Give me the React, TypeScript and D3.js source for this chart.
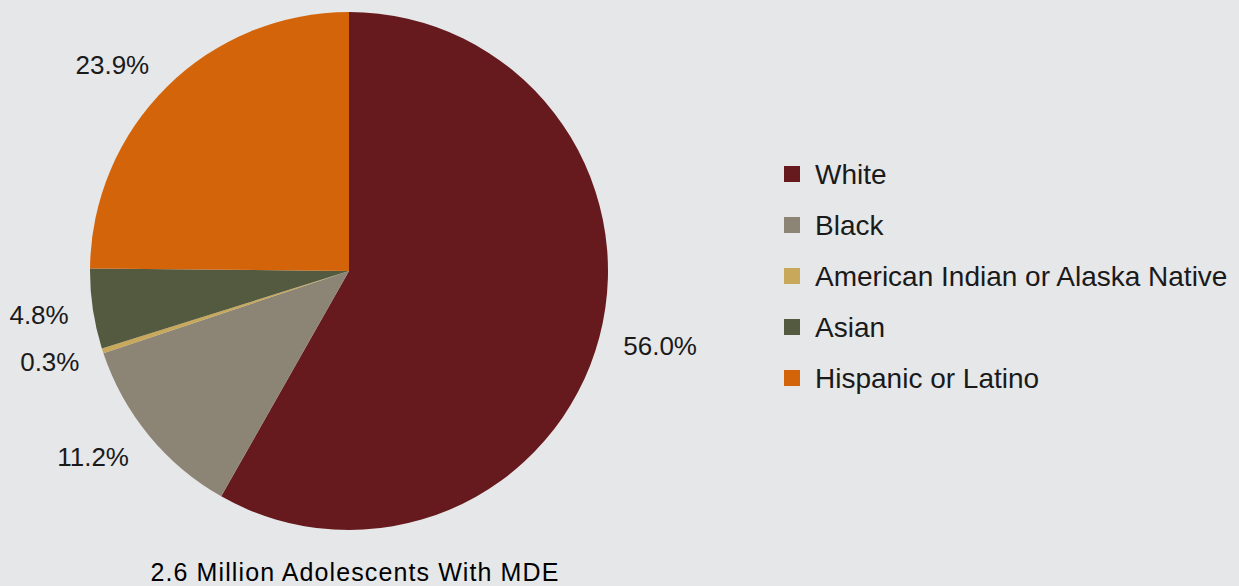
import React from "react";
import * as d3 from "d3";

const categories = ["White", "Black", "American Indian or Alaska Native", "Asian", "Hispanic or Latino"];
const values = [56.0, 11.2, 0.3, 4.8, 23.9];
const labels = ["56.0%", "11.2%", "0.3%", "4.8%", "23.9%"];
const colors = ["#661a1e", "#8c8474", "#c8a85a", "#545a40", "#d4640a"];
const title = "2.6 Million Adolescents With MDE";

const W = 1239;
const H = 586;
const cx = 349;
const cy = 271;
const R = 259;
const FONT = "'Liberation Sans', Arial, sans-serif";

export default function App() {
  const data = categories.map((c, i) => ({ c, v: values[i], label: labels[i], color: colors[i] }));
  const pie = d3.pie<any>().sort(null).value((d: any) => d.v).startAngle(0).endAngle(2 * Math.PI);
  const arcs = pie(data);
  const arc = d3.arc<any>().innerRadius(0).outerRadius(R);
  const labelFont = 26;
  const legendY = d3.scalePoint<string>().domain(categories).range([174, 378]);

  return (
    <div style={{ position: "fixed", left: 0, top: 0, width: W, height: H }}>
      <svg width={W} height={H} style={{ display: "block" }}>
        <rect x={0} y={0} width={W} height={H} fill="#e6e7e9" />
        <g transform={`translate(${cx},${cy})`}>
          {arcs.map((a, i) => (
            <path key={i} d={arc(a) as string} fill={a.data.color} />
          ))}
          {arcs.map((a, i) => {
            const mid = (a.startAngle + a.endAngle) / 2;
            const ux = Math.sin(mid);
            const uy = -Math.cos(mid);
            const px = ux * (R + 24);
            const py = uy * (R + 24);
            const w = a.data.label.length * 15;
            const h = 16;
            const tx = px + Math.sign(ux) * (w / 2);
            const ty = py + uy * (h / 2) + 1;
            return (
              <text
                key={"l" + i}
                x={tx}
                y={ty}
                textAnchor="middle"
                dominantBaseline="central"
                fontFamily={FONT}
                fontSize={labelFont}
                fill="#1a1a1a"
              >
                {a.data.label}
              </text>
            );
          })}
        </g>
        <g>
          {data.map((d, i) => (
            <g key={i} transform={`translate(0,${legendY(d.c)})`}>
              <rect x={784} y={-8} width={16} height={16} fill={d.color} />
              <text x={815} y={0} dominantBaseline="central" fontFamily={FONT} fontSize={28} fill="#1a1a1a">
                {d.c}
              </text>
            </g>
          ))}
        </g>
        <text
          x={355}
          y={581}
          textAnchor="middle"
          fontFamily={FONT}
          fontSize={25}
          letterSpacing={1.1}
          fill="#000"
        >
          {title}
        </text>
      </svg>
    </div>
  );
}
